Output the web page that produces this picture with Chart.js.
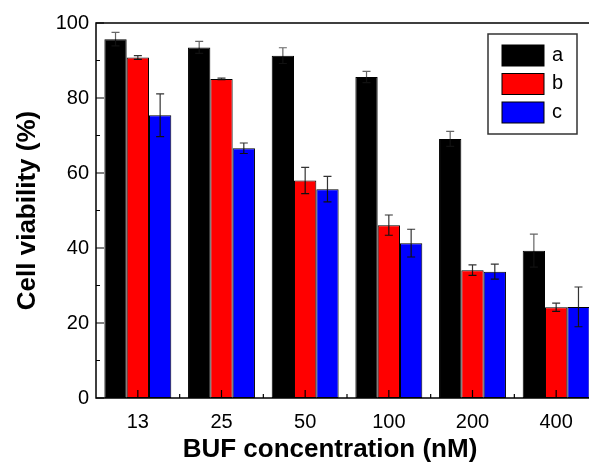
<!DOCTYPE html>
<html>
<head>
<meta charset="utf-8">
<script src="https://cdn.jsdelivr.net/npm/chart.js@4/dist/chart.umd.min.js"></script>
<style>
  html, body { margin: 0; padding: 0; background: #fff; overflow: hidden; }
  #wrap { width: 610px; height: 463px; }
</style>
</head>
<body>
<div id="wrap"><canvas id="chart" width="610" height="463"></canvas></div>
<script>
const concentrations = ["13", "25", "50", "100", "200", "400"];
const seriesNames = ["a", "b", "c"];
const seriesColors = ["#000000", "#ff0000", "#0000ff"];

const valuesA = [95.7, 93.5, 91.3, 85.6, 69.1, 39.3];
const valuesB = [90.8, 85.1, 58.0, 46.1, 34.1, 24.2];
const valuesC = [75.4, 66.6, 55.7, 41.3, 33.7, 24.3];

const errorsA = [1.8, 1.6, 2.1, 1.5, 2.0, 4.4];
const errorsB = [0.5, 0.2, 3.5, 2.7, 1.4, 1.1];
const errorsC = [5.7, 1.4, 3.4, 3.7, 2.0, 5.3];

const yTicks = [0, 20, 40, 60, 80, 100];
const xTitle = "BUF concentration (nM)";

const FONT = "'Liberation Sans', Arial, Helvetica, sans-serif";

// error bars drawn from each bar element
const errorBarPlugin = {
  id: "errorBars",
  afterDatasetsDraw(chart) {
    const ctx = chart.ctx;
    const y = chart.scales.y;
    ctx.save();
    ctx.lineWidth = 1.2;
    chart.data.datasets.forEach((ds, di) => {
      const meta = chart.getDatasetMeta(di);
      meta.data.forEach((bar, i) => {
        const v = ds.data[i];
        const e = ds.errors[i];
        const yTop = y.getPixelForValue(v + e);
        const yMid = y.getPixelForValue(v);
        const yBot = y.getPixelForValue(v - e);
        // upper half
        ctx.strokeStyle = di === 0 ? "#666" : "#333";
        ctx.beginPath();
        ctx.moveTo(bar.x, yTop);
        ctx.lineTo(bar.x, yMid);
        ctx.moveTo(bar.x - 4, yTop);
        ctx.lineTo(bar.x + 4, yTop);
        ctx.stroke();
        // lower half (inside the bar)
        ctx.strokeStyle = "#111";
        ctx.beginPath();
        ctx.moveTo(bar.x, yMid);
        ctx.lineTo(bar.x, yBot);
        ctx.moveTo(bar.x - 4, yBot);
        ctx.lineTo(bar.x + 4, yBot);
        ctx.stroke();
      });
    });
    ctx.restore();
  }
};

// frame + inward ticks + legend + x title
const framePlugin = {
  id: "frame",
  afterDraw(chart) {
    const ctx = chart.ctx;
    const a = chart.chartArea;
    const x = chart.scales.x;
    const y = chart.scales.y;
    ctx.save();
    ctx.strokeStyle = "#000";
    ctx.lineWidth = 1.5;
    ctx.strokeRect(a.left, a.top, a.right - a.left, a.bottom - a.top);
    ctx.lineWidth = 1.2;
    ctx.beginPath();
    for (let v = 0; v <= 100; v += 10) {
      const py = y.getPixelForValue(v);
      const len = v % 20 === 0 ? 8 : 4;
      ctx.moveTo(a.left, py);
      ctx.lineTo(a.left + len, py);
    }
    const step = (a.right - a.left) / concentrations.length;
    concentrations.forEach((c, i) => {
      const px = x.getPixelForValue(i);
      ctx.moveTo(px, a.bottom);
      ctx.lineTo(px, a.bottom - 8);
      const bx = a.left + step * (i + 1);
      ctx.moveTo(bx, a.bottom);
      ctx.lineTo(bx, a.bottom - 4);
    });
    ctx.stroke();

    // x title (centred on the visible part of the figure)
    ctx.fillStyle = "#000";
    ctx.font = "bold 26px " + FONT;
    ctx.textAlign = "center";
    ctx.textBaseline = "middle";
    ctx.fillText(xTitle, 330, 450);

    // legend box
    const lx = 488, ly = 34, lw = 89, lh = 100;
    ctx.fillStyle = "#fff";
    ctx.fillRect(lx, ly, lw, lh);
    ctx.strokeStyle = "#333";
    ctx.lineWidth = 1.5;
    ctx.strokeRect(lx, ly, lw, lh);
    ctx.font = "20px " + FONT;
    ctx.textBaseline = "middle";
    ctx.textAlign = "left";
    chart.data.datasets.forEach((ds, i) => {
      const sy = 45 + i * 28.5;
      ctx.fillStyle = ds.backgroundColor;
      ctx.fillRect(502, sy, 42, 21);
      ctx.strokeStyle = "#000";
      ctx.lineWidth = 1;
      ctx.strokeRect(502, sy, 42, 21);
      ctx.fillStyle = "#000";
      ctx.fillText(ds.label, 552, sy + 10);
    });
    ctx.restore();
  }
};

const datasets = [valuesA, valuesB, valuesC].map((vals, i) => ({
  label: seriesNames[i],
  data: vals,
  errors: [errorsA, errorsB, errorsC][i],
  backgroundColor: seriesColors[i],
  borderColor: "#000",
  borderWidth: 1,
  borderSkipped: false,
  categoryPercentage: 0.8,
  barPercentage: 1.0
}));

new Chart(document.getElementById("chart"), {
  type: "bar",
  data: { labels: concentrations, datasets },
  options: {
    responsive: false,
    animation: false,
    layout: { padding: { top: 23, right: 12, left: 0, bottom: 0 } },
    plugins: { legend: { display: false }, tooltip: { enabled: false } },
    scales: {
      x: {
        grid: { display: false, drawTicks: false },
        border: { display: false },
        ticks: { color: "#000", font: { family: FONT, size: 20 }, padding: 12 },
        title: { display: false },
        afterFit(scale) { scale.height = 65; }
      },
      y: {
        min: 0,
        max: 100,
        afterBuildTicks(scale) { scale.ticks = yTicks.map(v => ({ value: v })); },
        grid: { display: false, drawTicks: false },
        border: { display: false },
        ticks: { color: "#000", font: { family: FONT, size: 20 }, padding: 7 },
        title: {
          display: true,
          text: "Cell viability (%)",
          color: "#000",
          font: { family: FONT, size: 26, weight: "bold", lineHeight: 1 },
          padding: { top: 15, bottom: 0 }
        },
        afterFit(scale) { scale.width = 96; }
      }
    }
  },
  plugins: [errorBarPlugin, framePlugin]
});
</script>
</body>
</html>
